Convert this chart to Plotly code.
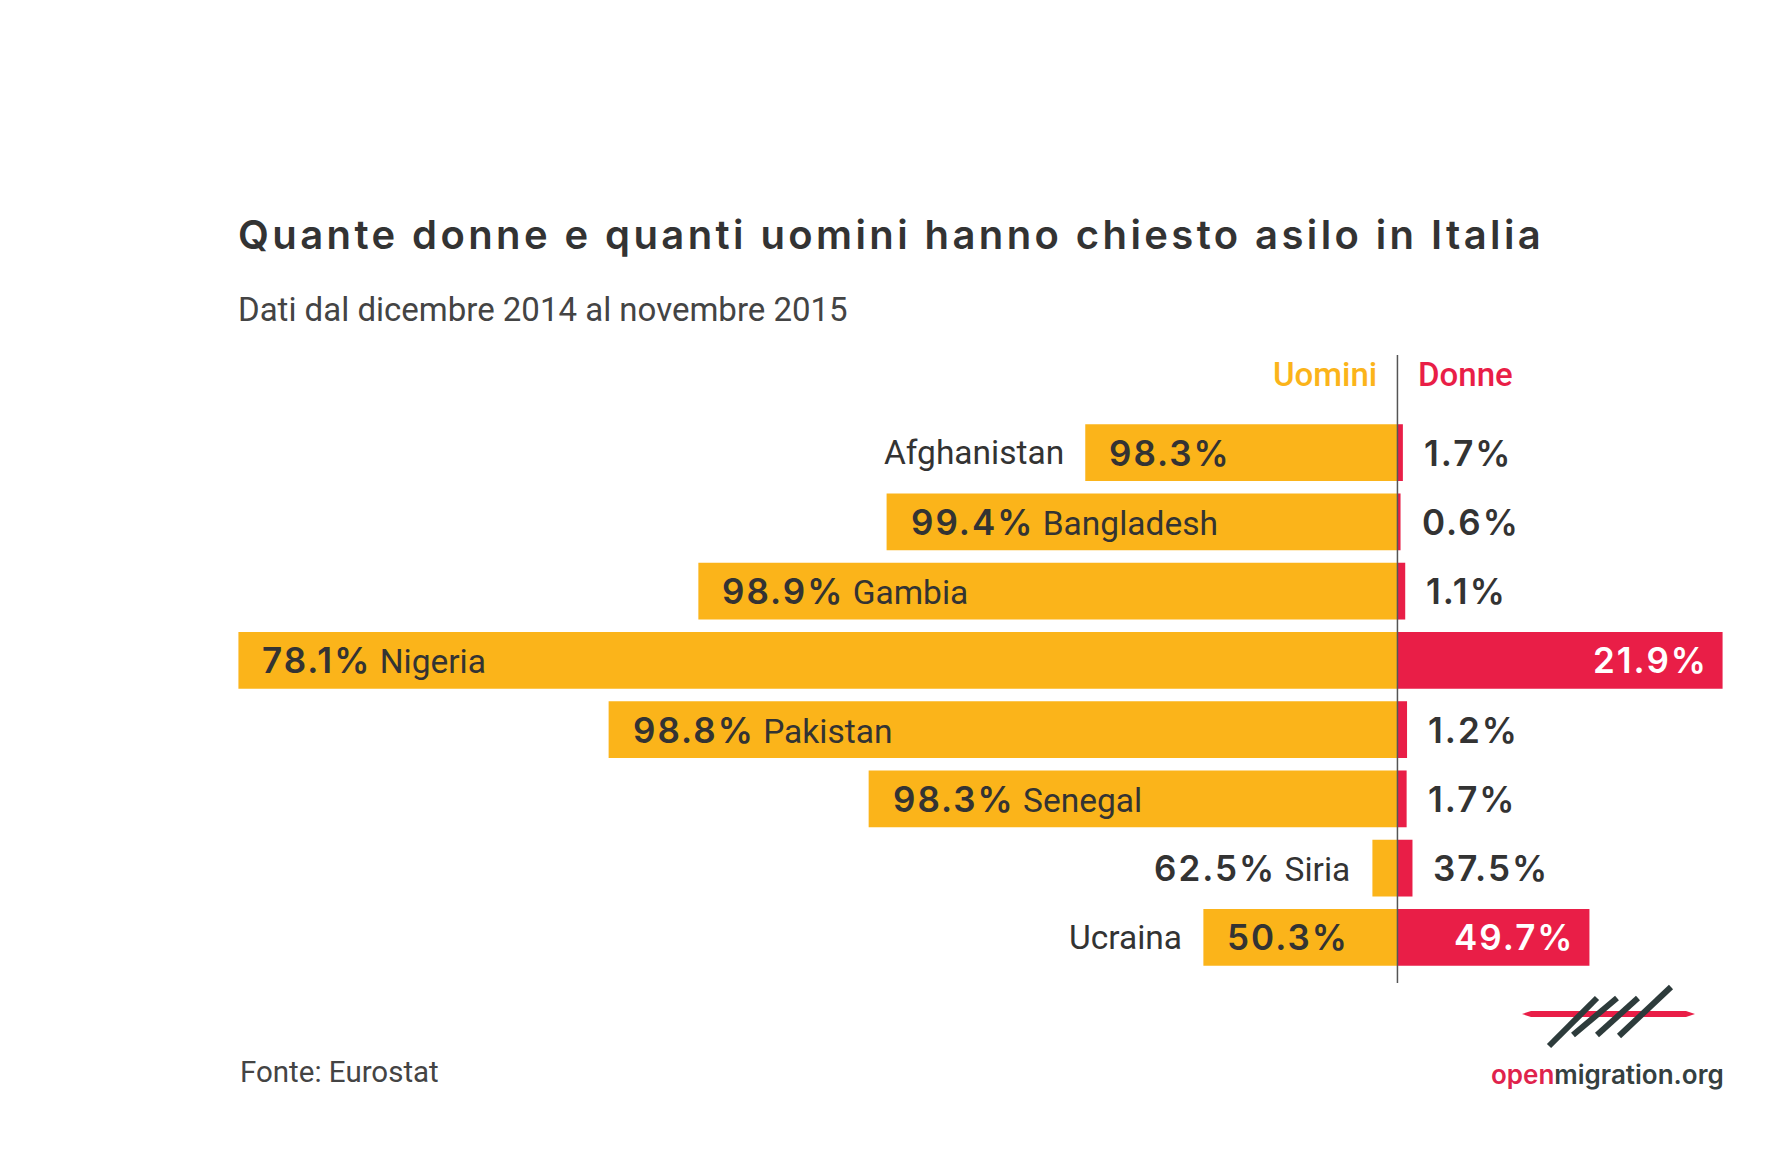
import plotly.graph_objects as go

# ---------------- data ----------------
countries = ["Afghanistan", "Bangladesh", "Gambia", "Nigeria", "Pakistan", "Senegal", "Siria", "Ucraina"]
men = [3740, 6120, 8375, 13885, 9450, 6335, 300, 2325]
women = [65, 37, 93, 3895, 115, 110, 180, 2300]
men_pct = ["98.3%", "99.4%", "98.9%", "78.1%", "98.8%", "98.3%", "62.5%", "50.3%"]
women_pct = ["1.7%", "0.6%", "1.1%", "21.9%", "1.2%", "1.7%", "37.5%", "49.7%"]

title = "Quante donne e quanti uomini hanno chiesto asilo in Italia"
subtitle = "Dati dal dicembre 2014 al novembre 2015"
source = "Fonte: Eurostat"

# ---------------- style ----------------
W, H = 1780, 1169
OFF = 8  # default page body margin
ML, MR, MT, MB = 238 - OFF, 57 + OFF, 418 - OFF, 197 + OFF
YELLOW = "#FBB41A"
RED = "#E91E47"
DARK = "#333333"
PCT_FONT = "Inter"
TXT_FONT = "Roboto"
PCT_LS = 2

xmin, xmax = -13890, 3900
plot_w = W - ML - MR
plot_h = H - MT - MB
ppu = plot_w / (xmax - xmin)


def px(x):
    return (x - OFF - ML) / plot_w


def py(y):
    return (H - MB - (y - OFF)) / plot_h


fig = go.Figure()
fig.add_trace(go.Bar(y=countries, x=[-m for m in men], orientation="h",
                     marker=dict(color=YELLOW, line=dict(width=0)), name="Uomini",
                     hoverinfo="skip"))
fig.add_trace(go.Bar(y=countries, x=women, orientation="h",
                     marker=dict(color=RED, line=dict(width=0)), name="Donne",
                     hoverinfo="skip"))

ann = []
NAME_FONT = dict(family=TXT_FONT, size=33.5, color=DARK)


def pct_span(t, color=DARK):
    return (f"<span style='font-family:{PCT_FONT};font-weight:600;font-size:35px;"
            f"letter-spacing:{PCT_LS}px;fill:{color}'>{t}</span>")


for c, m, w, mp, wp in zip(countries, men, women, men_pct, women_pct):
    mw = m * ppu
    if mw > 400:
        ann.append(dict(x=-m, y=c, xanchor="left", xshift=22, showarrow=False,
                        text=pct_span(mp) + " " + c, font=NAME_FONT))
    elif mw > 100:
        ann.append(dict(x=-m, y=c, xanchor="left", xshift=22, showarrow=False,
                        text=pct_span(mp), font=NAME_FONT))
        ann.append(dict(x=-m, y=c, xanchor="right", xshift=-19, showarrow=False,
                        text=c, font=NAME_FONT))
    else:
        ann.append(dict(x=-m, y=c, xanchor="right", xshift=-20, showarrow=False,
                        text=pct_span(mp) + " " + c, font=NAME_FONT))
    ww = w * ppu
    if ww > 100:
        ann.append(dict(x=w, y=c, xanchor="right", xshift=-15 + PCT_LS, showarrow=False,
                        text=pct_span(wp, "#ffffff"),
                        font=dict(family=TXT_FONT, size=32, color="#ffffff")))
    else:
        ann.append(dict(x=w, y=c, xanchor="left", xshift=19, showarrow=False,
                        text=pct_span(wp), font=NAME_FONT))

# headers
ann.append(dict(x=0, y=py(374), xref="x", yref="paper", xanchor="right", yanchor="middle",
                xshift=-18, showarrow=False, text="Uomini",
                font=dict(family=TXT_FONT, size=33, color=YELLOW, weight=500)))
ann.append(dict(x=0, y=py(374), xref="x", yref="paper", xanchor="left", yanchor="middle",
                xshift=19, showarrow=False, text="Donne",
                font=dict(family=TXT_FONT, size=33, color=RED, weight=500)))
# title / subtitle / footer
ann.append(dict(x=px(236), y=py(235), xref="paper", yref="paper", xanchor="left", yanchor="middle",
                showarrow=False,
                text=f"<span style='letter-spacing:3.4px'>{title}</span>",
                font=dict(family=PCT_FONT, size=40, color=DARK, weight=600)))
ann.append(dict(x=px(236), y=py(309), xref="paper", yref="paper", xanchor="left", yanchor="middle",
                showarrow=False, text=subtitle,
                font=dict(family=TXT_FONT, size=33, color="#444444")))
ann.append(dict(x=px(238), y=py(1072), xref="paper", yref="paper", xanchor="left", yanchor="middle",
                showarrow=False, text=source,
                font=dict(family=TXT_FONT, size=29.5, color="#444444")))
ann.append(dict(x=px(1726), y=py(1074), xref="paper", yref="paper", xanchor="right", yanchor="middle",
                showarrow=False,
                text="<span style='fill:#E0234C'>open</span>migration.org",
                font=dict(family=PCT_FONT, size=26, color="#35403F", weight=600)))

shapes = []
# center axis line
shapes.append(dict(type="line", xref="x", yref="paper", x0=0, x1=0, y0=py(355), y1=py(983),
                   line=dict(color="#555555", width=1.5), layer="above"))
# logo: red line
pts = [(1522, 1014), (1531, 1011), (1686, 1011), (1695, 1014), (1686, 1017), (1531, 1017)]
path = "M " + " L ".join(f"{px(a)},{py(b)}" for a, b in pts) + " Z"
shapes.append(dict(type="path", xref="paper", yref="paper", path=path,
                   fillcolor="#E91E47", line=dict(width=0)))
strokes = [((1549, 1046), (1597, 998)), ((1573, 1035), (1617, 998)),
           ((1597, 1035), (1638, 998)), ((1619, 1036), (1671, 987))]
for (a, b), (c, d) in strokes:
    shapes.append(dict(type="line", xref="paper", yref="paper", x0=px(a), y0=py(b),
                       x1=px(c), y1=py(d), line=dict(color="#2D3B3B", width=6)))

fig.update_layout(
    width=W, height=H,
    margin=dict(l=ML, r=MR, t=MT, b=MB),
    paper_bgcolor="white", plot_bgcolor="white",
    barmode="relative", bargap=0.18,
    showlegend=False,
    xaxis=dict(range=[xmin, xmax], visible=False, fixedrange=True),
    yaxis=dict(categoryorder="array", categoryarray=countries, range=[7.5, -0.5],
               visible=False, fixedrange=True),
    annotations=ann, shapes=shapes,
)

fig.write_html("out.html")
